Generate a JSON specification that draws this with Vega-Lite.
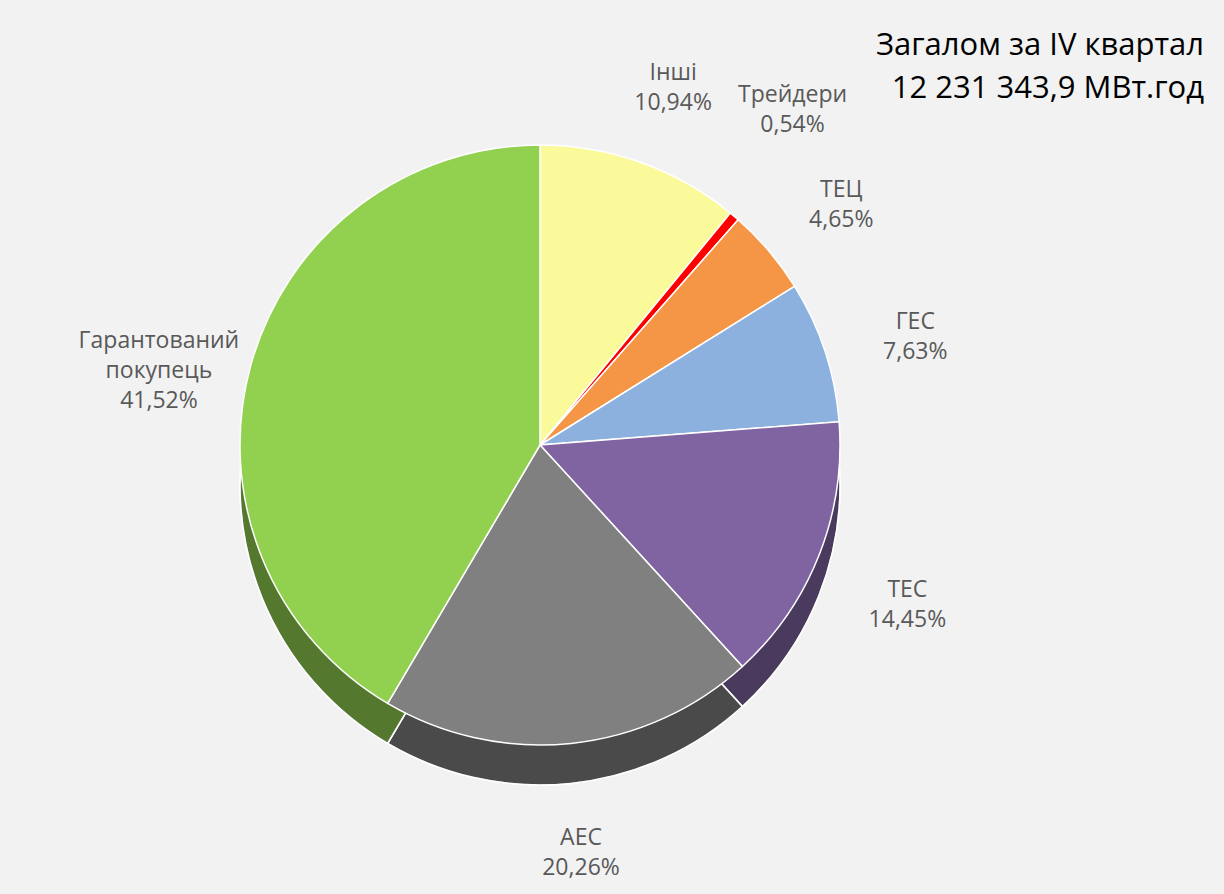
{
  "$schema": "https://vega.github.io/schema/vega-lite/v6.json",
  "width": 1080,
  "height": 890,
  "autosize": "none",
  "padding": {"left": 0, "top": 0, "right": 144, "bottom": 4},
  "background": "#F2F2F2",
  "config": {"view": {"stroke": null}, "font": "Open Sans"},
  "title": {
    "text": ["Загалом за IV квартал", "12 231 343,9 МВт.год"],
    "anchor": "end",
    "frame": "group",
    "orient": "top",
    "offset": -105,
    "dx": 124,
    "fontSize": 31,
    "fontWeight": "normal",
    "color": "#000000",
    "font": "Open Sans",
    "lineHeight": 43
  },
  "data": {
    "values": [
      {"source": "Інші", "share": 10.94, "ord": 1, "label": "Інші\n10,94%"},
      {"source": "Трейдери", "share": 0.54, "ord": 2, "label": "Трейдери\n0,54%"},
      {"source": "ТЕЦ", "share": 4.65, "ord": 3, "label": "ТЕЦ\n4,65%"},
      {"source": "ГЕС", "share": 7.63, "ord": 4, "label": "ГЕС\n7,63%"},
      {"source": "ТЕС", "share": 14.45, "ord": 5, "label": "ТЕС\n14,45%"},
      {"source": "АЕС", "share": 20.26, "ord": 6, "label": "АЕС\n20,26%"},
      {"source": "Гарантований покупець", "share": 41.52, "ord": 7, "label": "Гарантований\nпокупець\n41,52%"}
    ]
  },
  "encoding": {
    "theta": {"field": "share", "type": "quantitative", "stack": true},
    "order": {"field": "ord", "type": "quantitative"},
    "color": {
      "field": "source",
      "type": "nominal",
      "legend": null,
      "scale": {
        "domain": ["Інші", "Трейдери", "ТЕЦ", "ГЕС", "ТЕС", "АЕС", "Гарантований покупець"],
        "range": ["#FAFA9A", "#FF0000", "#F59646", "#8DB1DF", "#8064A2", "#808080", "#92D050"]
      }
    }
  },
  "layer": [
    {"mark": {"type": "arc", "radius": 300, "yOffset": 40, "stroke": "#FFFFFF", "strokeWidth": 1.5}},
    {
      "mark": {"type": "arc", "radius": 300, "yOffset": 40, "fillOpacity": 0.42, "stroke": "#FFFFFF", "strokeWidth": 1.5},
      "encoding": {"color": {"value": "#000000"}}
    },
    {"mark": {"type": "arc", "radius": 300, "stroke": "#FFFFFF", "strokeWidth": 1.5}},
    {
      "mark": {"type": "text", "radius": 395, "fontSize": 23, "lineBreak": "\n", "lineHeight": 30, "font": "Open Sans"},
      "encoding": {
        "text": {"field": "label", "type": "nominal"},
        "color": {"value": "#595959"},
        "opacity": {"condition": {"test": "datum.ord == 2", "value": 0}, "value": 1}
      }
    },
    {
      "mark": {"type": "text", "radius": 432, "thetaOffset": -0.08, "fontSize": 23, "lineBreak": "\n", "lineHeight": 30, "font": "Open Sans"},
      "encoding": {
        "text": {"field": "label", "type": "nominal"},
        "color": {"value": "#595959"},
        "opacity": {"condition": {"test": "datum.ord == 2", "value": 1}, "value": 0}
      }
    }
  ]
}
